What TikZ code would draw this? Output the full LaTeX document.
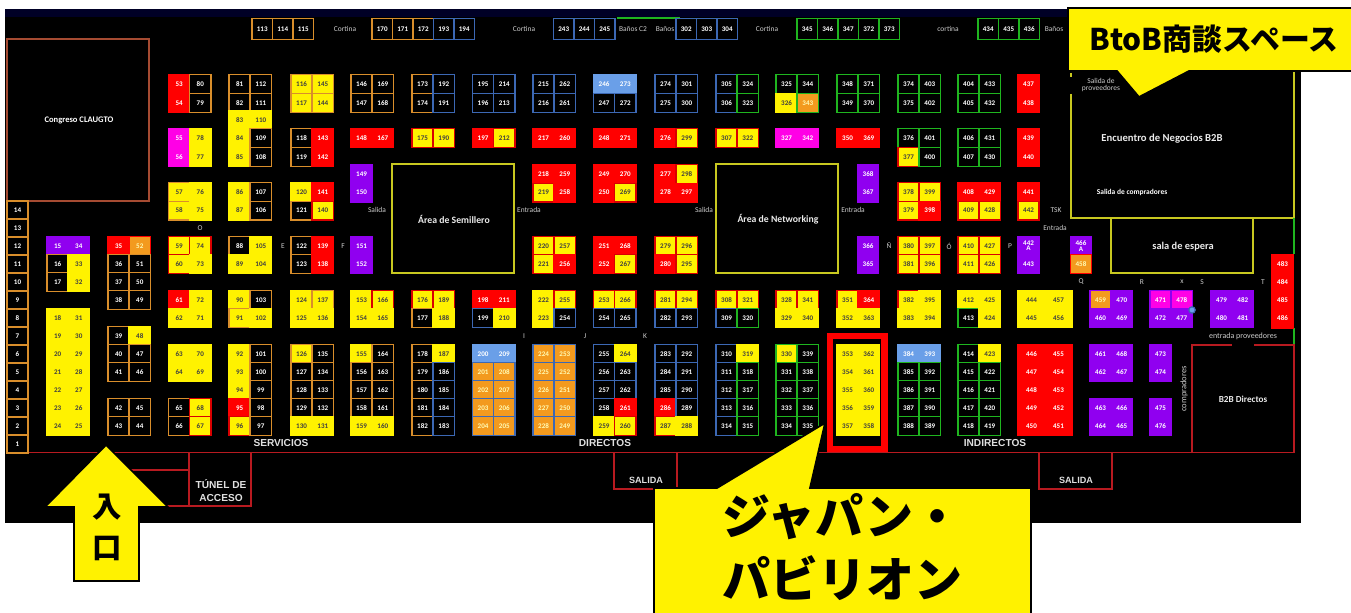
\documentclass[tikz,border=0pt]{standalone}
\usepackage{fontspec}
\setmainfont{Carlito}
\newfontfamily\lib{Liberation Sans}
\newfontfamily\cjk{Noto Sans CJK JP}
\definecolor{cor}{HTML}{D98E2B}
\definecolor{cbl}{HTML}{3C68B4}
\definecolor{cgr}{HTML}{1FB51F}
\definecolor{cpu}{HTML}{9000F0}
\definecolor{cma}{HTML}{FF00E6}
\definecolor{cof}{HTML}{F39A1E}
\definecolor{cli}{HTML}{6A9FE8}
\definecolor{cwall}{HTML}{B81A20}
\definecolor{cbrn}{HTML}{A64B32}
\definecolor{cyl}{HTML}{C8C820}
\newcommand\cw{21.2}
\tikzset{
 stall/.style={rectangle,inner sep=0pt,outer sep=0pt,minimum width=\cw*0.75pt,minimum height=13.9pt,
   font=\fontsize{5.3}{5.5}\selectfont\bfseries,line width=1.1pt,align=center},
 sko/.style={draw=cor,fill=black,text=white},
 skb/.style={draw=cbl,fill=black,text=white},
 skg/.style={draw=cgr,fill=black,text=white},
 sY/.style={fill=yellow,draw=yellow,text=black!75},
 syo/.style={fill=yellow,draw=cor,text=black!75},
 syr/.style={fill=yellow,draw=red!85!black,text=black!75},
 syg/.style={fill=yellow,draw=cgr,text=black!75},
 sR/.style={fill=red,draw=red,text=white},
 sP/.style={fill=cpu,draw=cpu,text=white},
 sM/.style={fill=cma,draw=cma,text=white},
 sO/.style={fill=cof,draw=cbl,text=yellow!30},
 sOg/.style={fill=cof,draw=cgr,text=yellow!30},
 sOp/.style={fill=cof,draw=cpu,text=yellow!30},
 sOr/.style={fill=cof,draw=red,text=yellow!30},
 sL/.style={fill=cli,draw=cli,text=white},
 sMp/.style={fill=cma,draw=cpu,text=white},
 lab/.style={text=white,inner sep=0pt,font=\fontsize{6.4}{6.8}\selectfont\bfseries,align=center},
 labm/.style={text=white!92!black,inner sep=0pt,font=\fontsize{7.3}{7.5}\selectfont\bfseries,align=center},
 labg/.style={text=white!80!black,inner sep=0pt,font=\fontsize{5.6}{6}\selectfont,align=center},
 big/.style={text=white!88!black,inner sep=0pt,font=\lib\fontsize{7.6}{9.5}\selectfont\bfseries,align=center},
 wall/.style={draw=cwall,line width=1.1pt},
 ywall/.style={draw=cyl,line width=1.3pt},
 callout/.style={fill=yellow,draw=black,line width=1.3pt,line join=miter},
 ctext/.style={text=black,inner sep=0pt,align=center},
}
% block of paired stalls: x-left, rows y/numL/styleL/numR/styleR
\newcommand\Bk[2]{\foreach \yy/\nA/\sA/\nB/\sB in {#2}{%
  \node (s\nA) [stall,\sA] at ({#1+\cw/2},\yy) {\nA};
  \node (s\nB) [stall,\sB] at ({#1+\cw*1.5},\yy) {\nB};}}
% single stalls in one column
\newcommand\Sg[2]{\foreach \yy/\nA/\sA in {#2}{%
  \node (s\nA) [stall,\sA] at ({#1+\cw/2},\yy) {\nA};}}
% row of stalls along the top
\newcommand\Tp[3]{\foreach \i/\nA/\sA in {#3}{%
  \node (s\nA) [stall,\sA,minimum width=15.4pt,minimum height=15.6pt] at ({#1+20.5*\i+10.25},#2) {\nA};}}
\begin{document}
\begin{tikzpicture}[x=0.75pt,y=-0.75pt]
\useasboundingbox (0,0) rectangle (1351,613);
\fill[white] (0,0) rectangle (1351,613);
\fill[black] (5,9) rectangle (1300.5,523);
\fill[black!85!blue] (5,9) rectangle (1300.5,17);
\draw[cgr,line width=.8pt] (617,18) -- (680,18);
% rooms
\draw[cbrn,line width=1.5pt] (7,39) rectangle (149,201);
\draw[ywall] (392,164) rectangle (514,273);
\draw[ywall] (716,164) rectangle (838,273);
\draw[ywall] (1071,94) -- (1071,218) -- (1294,218) -- (1294,68);
\draw[ywall] (1071,73) -- (1071,77);
\draw[ywall] (1111,218) -- (1111,273) -- (1253,273) -- (1253,218);
\draw[cgr,line width=1.1pt] (1294,218) -- (1294,254);
\draw[cgr,line width=1.1pt] (1294,328) -- (1294,345);
% walls
\draw[wall] (28,452.5) -- (1294,452.5);
\draw[wall] (1232,345) -- (1192,345) -- (1192,452.5);
\draw[wall] (1254,345) -- (1294,345) -- (1294,452.5);
\draw[wall] (189,452.5) -- (189,506) -- (251,506) -- (251,452.5);
\draw[wall] (100,470) -- (189,470);
\draw[wall] (100,506) -- (189,506);
\draw[wall] (614,452.5) -- (614,489) -- (677,489) -- (677,452.5);
\draw[wall] (1039,452.5) -- (1039,489) -- (1112,489) -- (1112,452.5);
% left column
\foreach \i/\yy in {14/210,13/228,12/246,11/264,10/282,9/300,8/318,7/336,6/354,5/372,4/390,3/408,2/426,1/444}{
  \node (e\i) [stall,sko,minimum width=15.6pt,minimum height=13.5pt] at (17.5,\yy) {\i};}
% top row
\Tp{252}{29}{0/113/sko,1/114/sko,2/115/sko}
\Tp{372}{29}{0/170/sko,1/171/sko,2/172/sko,3/193/skb,4/194/skb}
\Tp{553.5}{29}{0/243/skb,1/244/skb,2/245/skb}
\Tp{676}{29}{0/302/skb,1/303/skb,2/304/skb}
\Tp{797}{29}{0/345/skg,1/346/skg,2/347/skg,3/372/skg,4/373/skg}
\Tp{978}{29}{0/434/skg,1/435/skg,2/436/skg}
% blocks
\Bk{47}{246/15/sP/34/sP,264/16/sko/33/sY,282/17/sko/32/sY,318/18/sY/31/sY,336/19/sY/30/sY,354/20/sY/29/sY,372/21/sY/28/sY,390/22/sY/27/sY,408/23/sY/26/sY,426/24/sY/25/sY}
\Bk{108}{246/35/sR/52/sOr,264/36/sko/51/sko,282/37/sko/50/sko,300/38/sko/49/sko,336/39/sko/48/sY,354/40/sko/47/sko,372/41/sko/46/sko,408/42/sko/45/sko,426/43/sko/44/sko}
\Bk{168.5}{84/53/sR/80/sko,103/54/sR/79/sko,138/55/sM/78/sY,157/56/sM/77/sY,192/57/syo/76/sY,210.5/58/syo/75/sY,246/59/syr/74/syr,264/60/syr/73/sY,300/61/sR/72/sY,318/62/sY/71/sY,354/63/sY/70/sY,372/64/sY/69/sY,408/65/sko/68/syr,426/66/sko/67/syr}
\Bk{229}{84/81/sko/112/sko,103/82/sko/111/sko,120/83/sY/110/sY,138/84/sY/109/sko,157/85/sY/108/sko,192/86/sY/107/sko,210.5/87/sY/106/sko,246/88/sko/105/sY,264/89/sY/104/sY,300/90/sY/103/sko,318/91/syo/102/sY,354/92/sY/101/sko,372/93/sY/100/sko,390/94/sY/99/sko,408/95/sR/98/sko,426/96/syr/97/sko}
\Bk{291}{84/116/syo/145/syo,103/117/syo/144/syo,138/118/sko/143/sR,157/119/sko/142/sR,192/120/sY/141/sR,210.5/121/sko/140/syr,246/122/sko/139/sR,264/123/sko/138/sR,300/124/sY/137/syo,318/125/sY/136/sY,354/126/syo/135/sko,372/127/sko/134/sko,390/128/sko/133/sko,408/129/sko/132/sko,426/130/sY/131/sY}
\Bk{351}{84/146/sko/169/sko,103/147/sko/168/sko,138/148/sR/167/sR,300/153/sY/166/syr,318/154/sY/165/sY,354/155/sY/164/sko,372/156/sko/163/sko,390/157/sko/162/sko,408/158/sko/161/sko,426/159/sY/160/sY}
\Sg{351}{174/149/sP,192.5/150/sP,246/151/sP,264/152/sP}
\Bk{412}{84/173/sko/192/skb,103/174/sko/191/skb,138/175/syr/190/syr,300/176/syr/189/syr,318/177/sko/188/sY,354/178/sko/187/sY,372/179/sko/186/skb,390/180/sko/185/skb,408/181/sko/184/skb,426/182/sko/183/skb}
\Bk{472.5}{84/195/skb/214/skb,103/196/skb/213/skb,138/197/sR/212/syr,300/198/sR/211/sR,318/199/skb/210/sY,354/200/sL/209/sL,372/201/sO/208/sO,390/202/sO/207/sO,408/203/sO/206/sO,426/204/sO/205/sO}
\Bk{533}{84/215/skb/262/skb,103/216/skb/261/skb,138/217/sR/260/sR,174/218/sR/259/sR,192.5/219/syr/258/sR,246/220/syr/257/syr,264/221/syr/256/sR,300/222/sY/255/syr,318/223/sY/254/skb,354/224/sO/253/sO,372/225/sO/252/sO,390/226/sO/251/sO,408/227/sO/250/sO,426/228/sO/249/sO}
\Bk{593.5}{84/246/sL/273/sL,103/247/skb/272/skb,138/248/sR/271/sR,174/249/sR/270/sR,192.5/250/sR/269/syr,246/251/sR/268/sR,264/252/sR/267/syr,300/253/syr/266/syr,318/254/skb/265/skb,354/255/skb/264/sY,372/256/skb/263/skb,390/257/skb/262/skb,408/258/skb/261/sR,426/259/sY/260/syr}
\Bk{655}{84/274/skb/301/skb,103/275/skb/300/skb,138/276/sR/299/syr,174/277/sR/298/syr,192.5/278/sR/297/sR,246/279/syr/296/syr,264/280/sR/295/syr,300/281/syr/294/syr,318/282/skb/293/skb,354/283/skb/292/skb,372/284/skb/291/skb,390/285/skb/290/skb,408/286/sR/289/skb,426/287/syr/288/sY}
\Bk{716}{84/305/skb/324/skg,103/306/skb/323/skg,138/307/syr/322/syr,300/308/syr/321/syr,318/309/skb/320/skg,354/310/skb/319/sY,372/311/skb/318/skg,390/312/skb/317/skg,408/313/skb/316/skg,426/314/skb/315/skg}
\Bk{776}{84/325/skg/344/skg,103/326/sY/343/sOg,138/327/sM/342/sM,300/328/syr/341/syr,318/329/sY/340/sY,354/330/syg/339/skg,372/331/skg/338/skg,390/332/skg/337/skg,408/333/skg/336/skg,426/334/skg/335/skg}
\Bk{837}{84/348/skg/371/skg,103/349/skg/370/skg,138/350/sR/369/sR,300/351/syr/364/sR,318/352/sY/363/sY,354/353/sY/362/sY,372/354/sY/361/sY,390/355/sY/360/sY,408/356/sY/359/sY,426/357/sY/358/sY}
\Sg{857.5}{174/368/sP,192.5/367/sP,246/366/sP,264/365/sP}
\Bk{898}{84/374/skg/403/skg,103/375/skg/402/skg,138/376/skg/401/skg,157/377/syr/400/skg,192/378/syr/399/syr,210.5/379/syr/398/sR,246/380/syr/397/syr,264/381/syr/396/syr,300/382/syr/395/sY,318/383/sY/394/sY,354/384/sL/393/sL,372/385/skg/392/skg,390/386/skg/391/skg,408/387/skg/390/skg,426/388/skg/389/skg}
\Bk{958}{84/404/skg/433/skg,103/405/skg/432/skg,138/406/skg/431/skg,157/407/skg/430/skg,192/408/sR/429/sR,210.5/409/syr/428/syr,246/410/syr/427/syr,264/411/syr/426/syr,300/412/sY/425/sY,318/413/skg/424/sY,354/414/skg/423/sY,372/415/skg/422/skg,390/416/skg/421/skg,408/417/skg/420/skg,426/418/skg/419/skg}
\Sg{1018}{84/437/sR,103/438/sR,138/439/sR,157/440/sR,192/441/sR,210.5/442/syr,264/443/sP}
\node (s442A) [stall,sP] at (1028.6,246) {442\\[-1.5pt]A};
\node (s466A) [stall,sP] at (1081,246) {466\\[-1.5pt]A};
\node (s458) [stall,sOr] at (1081,264) {458};
\begingroup
\renewcommand\cw{27}
\Bk{1018}{300/444/sY/457/sY,318/445/sY/456/sY,354/446/sR/455/sR,372/447/sR/454/sR,390/448/sR/453/sR,408/449/sR/452/sR,426/450/sR/451/sR}
\endgroup
\Bk{1090}{300/459/sOp/470/sP,318/460/sP/469/sP,354/461/sP/468/sP,372/462/sP/467/sP,408/463/sP/466/sP,426/464/sP/465/sP}
\Bk{1150}{300/471/sMp/478/sMp,318/472/sP/477/sP}
\Sg{1150}{354/473/sP,372/474/sP,408/475/sP,426/476/sP}
\Bk{1211}{300/479/sP/482/sP,318/480/sP/481/sP}
\Sg{1272}{264/483/sR,282/484/sR,300/485/sR,318.5/486/sR}
\draw[cbl,fill=cli,line width=.9pt] (1192,310) circle (3.2);
% labels
\node (t1) [lab] at (79,120) {Congreso CLAUGTO};
\node (t2) [labm] at (454,219) {Área de Semillero};
\node (t3) [labm] at (778,219) {Área de Networking};
\node (t4) [labm,font=\fontsize{8}{8}\selectfont\bfseries] at (1162,139) {Encuentro de Negocios B2B};
\node (t5) [lab,font=\fontsize{5.6}{6}\selectfont\bfseries] at (1132,192) {Salida de compradores};
\node (t6) [labm,font=\fontsize{7.8}{8}\selectfont\bfseries] at (1183,247) {sala de espera};
\node (t7) [labm,font=\fontsize{6.9}{7}\selectfont\bfseries] at (1243,399) {B2B Directos};
\node (t8) [labg] at (1101,85) {Salida de\\[-1pt]proveedores};
\node (t9) [labg,font=\fontsize{6}{6.5}\selectfont] at (1243,336) {entrada proveedores};
\node (t10) [labg,rotate=90,font=\fontsize{6.4}{6.5}\selectfont] at (1184,389) {compradores};
\foreach \i/\xx/\yy/\txt in {11/345/29/Cortina,12/524/29/Cortina,13/633/29/Baños C2,14/665/29/Baños,15/767/29/Cortina,16/948/29/cortina,17/1054/29/Baños,18/377/210/Salida,19/529/210/Entrada,20/704/210/Salida,21/853/210/Entrada,22/1056/210/TSK,23/1055/228/Entrada,
 24/200/228/O,25/283/246/E,26/343/246/F,27/524/336/I,28/585/336/J,29/645/336/K,30/889/246/Ñ,31/949/246/Ó,32/1010/246/P,33/1081/282/Q,34/1142/282/R,35/1182/282/x,36/1202/282/S,37/1263/282/T}{
  \node (t\i) [labg] at (\xx,\yy) {\txt};}
\node (t38) [big] at (281,443) {SERVICIOS};
\node (t39) [big] at (605,443) {DIRECTOS};
\node (t40) [big] at (995,443) {INDIRECTOS};
\node (t41) [big] at (221,490.5) {TÚNEL DE\\ACCESO};
\node (t42) [big,font=\lib\fontsize{6.8}{8}\selectfont\bfseries] at (646,480) {SALIDA};
\node (t43) [big,font=\lib\fontsize{6.8}{8}\selectfont\bfseries] at (1076,480) {SALIDA};
% highlight
\draw[red,line width=4.6pt,line join=miter] (830,336) rectangle (884.5,449);
% callouts
\draw[callout] (74,581) -- (74,507) -- (45,507) -- (106,445) -- (168,507) -- (139,507) -- (139,581) -- cycle;
\node (c1) [ctext,font=\cjk\fontsize{22}{24}\selectfont\bfseries] at (107,507) {入};
\node (c2) [ctext,font=\cjk\fontsize{22}{24}\selectfont\bfseries] at (107,548) {口};
\draw[callout] (654,614) -- (654,488) -- (717,488) -- (825,423) -- (810,488) -- (1031,488) -- (1031,614);
\node (c3) [ctext,font=\cjk\fontsize{36}{40}\selectfont\bfseries] at (842,517) {ジャパン・};
\node (c4) [ctext,font=\cjk\fontsize{36}{40}\selectfont\bfseries] at (842,578) {パビリオン};
\draw[callout] (1352,71) -- (1189,71) -- (1139,97) -- (1117,71) -- (1068,71) -- (1068,8) -- (1352,8);
\node (c5) [ctext,font=\cjk\fontsize{22.4}{24}\selectfont\bfseries] at (1214,39) {BtoB商談スペース};
\end{tikzpicture}
\end{document}
